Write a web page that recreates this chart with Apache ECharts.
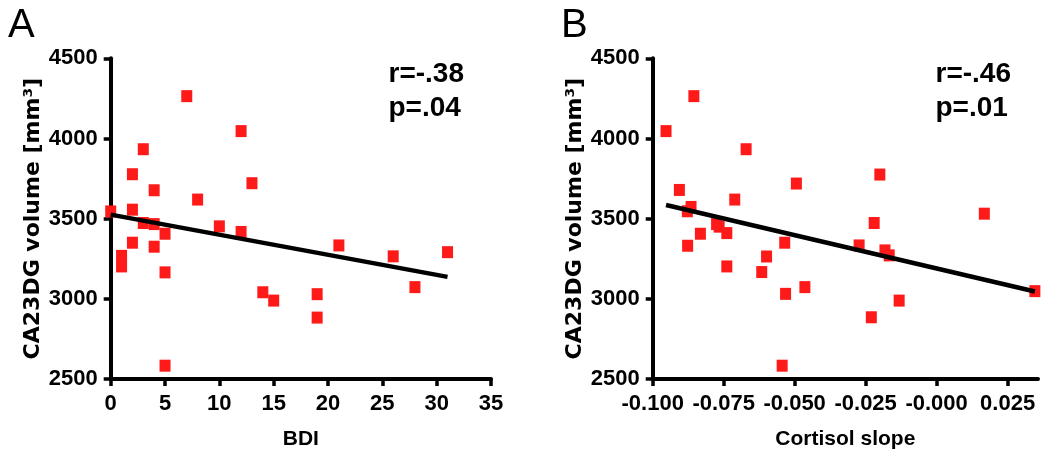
<!DOCTYPE html>
<html>
<head>
<meta charset="utf-8">
<script src="https://cdn.jsdelivr.net/npm/echarts@6/dist/echarts.min.js"></script>
<style>
html,body{margin:0;padding:0;background:#fff;}
#chart{width:1050px;height:456px;}
</style>
</head>
<body>
<div id="chart"></div>
<script>
// ---- Panel A data (BDI vs CA23DG volume) ----
const bdi  = [0,1,1,2,2,2,3,3,4,4,4,5,5,5,7,8,10,12,12,13,14,15,19,19,21,26,28,31];
const volA = [3545,3268,3202,3777,3556,3350,3933,3473,3677,3466,3325,3406,3165,2583,4264,3619,3452,4046,3417,3721,3041,2989,3029,2883,3333,3265,3073,3291];
const fitAx = [0, 31];
const fitAy = [3525, 3137];
const statsA = ['r=-.38', 'p=.04'];

// ---- Panel B data (Cortisol slope vs CA23DG volume) ----
const cortisol = [-0.0953,-0.0855,-0.0906,-0.0878,-0.0865,-0.0877,-0.0832,-0.0775,-0.0766,-0.0739,-0.0739,-0.0711,-0.0671,-0.0616,-0.0599,-0.0544,-0.0535,-0.0532,-0.0494,-0.0464,-0.0273,-0.0230,-0.0220,-0.0200,-0.0182,-0.0167,-0.0132,0.0168,0.0346];
const volB = [4046,4264,3679,3546,3573,3331,3406,3466,3450,3410,3202,3619,3933,3167,3264,2583,3350,3031,3719,3073,3333,2885,3473,3775,3302,3271,2989,3531,3048];
const fitBx = [-0.0953, 0.0346];
const fitBy = [3585, 3046];
const statsB = ['r=-.46', 'p=.01'];

// ---- Axis ticks / labels ----
const xTicksA = [0,5,10,15,20,25,30,35];
const yTicks = [2500,3000,3500,4000,4500];
const xTicksB = [-0.1,-0.075,-0.05,-0.025,0,0.025];
const xTickLabelsB = ['-0.100','-0.075','-0.050','-0.025','-0.000','0.025'];
const yName = 'CA23DG volume [mm³]';
const xNameA = 'BDI';
const xNameB = 'Cortisol slope';
const panelLabels = ['A', 'B'];

const zip = (xs, ys) => xs.map((x, i) => [x, ys[i]]);

const tickFont = "'Liberation Sans Narrow','Liberation Sans',Arial,sans-serif";
const nameFont = "'Liberation Sans',Arial,sans-serif";
const RED = '#ff1a1a';

function axisCommon() {
  return {
    axisLine: {show: true, onZero: false, lineStyle: {color: '#000', width: 4}},
    axisTick: {show: true, inside: false, length: 7, lineStyle: {color: '#000', width: 3.5}},
    axisLabel: {color: '#000', fontFamily: tickFont, fontWeight: 'bold', fontSize: 22, margin: 14},
    splitLine: {show: false}
  };
}

function xAxisDef(gridIndex, min, max, interval, name, ticks, labels) {
  const c = axisCommon();
  const ax = Object.assign({
    type: 'value', gridIndex, min, max, interval,
    name, nameLocation: 'middle', nameGap: 50,
    nameTextStyle: {color: '#000', fontFamily: nameFont, fontWeight: 'bold', fontSize: 21}
  }, c);
  c.axisLabel.formatter = v => String(v);
  if (ticks) {
    ax.axisTick = Object.assign({}, c.axisTick, {customValues: ticks});
    ax.axisLabel = Object.assign({}, c.axisLabel, {
      customValues: ticks,
      formatter: v => {
        let best = 0;
        ticks.forEach((t, i) => { if (Math.abs(t - v) < Math.abs(ticks[best] - v)) best = i; });
        return labels[best];
      }
    });
  }
  return ax;
}

function yAxisDef(gridIndex) {
  const c = axisCommon();
  c.axisLabel.formatter = v => String(v);
  c.axisLabel.margin = 13;
  return Object.assign({
    type: 'value', gridIndex, min: yTicks[0], max: yTicks[yTicks.length - 1], interval: 500,
    name: yName, nameLocation: 'middle', nameGap: 66,
    nameTextStyle: {color: '#000', fontFamily: "'DejaVu Sans',sans-serif", fontWeight: 'bold', fontSize: 22}
  }, c);
}

const chart = echarts.init(document.getElementById('chart'), null, {renderer: 'canvas'});

const option = {
  backgroundColor: '#fff',
  animation: false,
  grid: [
    {left: 110.7, top: 58.3, width: 380.3, height: 320.7},
    {left: 652.7, top: 58.3, width: 385.3, height: 320.7}
  ],
  xAxis: [
    xAxisDef(0, xTicksA[0], xTicksA[xTicksA.length - 1], 5, xNameA),
    xAxisDef(1, xTicksB[0], 0.0357, 0.025, xNameB, xTicksB, xTickLabelsB)
  ],
  yAxis: [yAxisDef(0), yAxisDef(1)],
  series: [
    {type: 'scatter', xAxisIndex: 0, yAxisIndex: 0, data: zip(bdi, volA),
     symbol: 'rect', symbolSize: [11, 12], itemStyle: {color: RED, opacity: 1}, z: 2},
    {type: 'line', xAxisIndex: 0, yAxisIndex: 0, data: zip(fitAx, fitAy),
     symbol: 'none', lineStyle: {color: '#000', width: 4.5}, z: 3},
    {type: 'scatter', xAxisIndex: 1, yAxisIndex: 1, data: zip(cortisol, volB),
     symbol: 'rect', symbolSize: [11, 12], itemStyle: {color: RED, opacity: 1}, z: 2},
    {type: 'line', xAxisIndex: 1, yAxisIndex: 1, data: zip(fitBx, fitBy),
     symbol: 'none', lineStyle: {color: '#000', width: 4.5}, z: 3}
  ],
  graphic: [
    {type: 'text', left: 8, top: 6, style: {text: panelLabels[0], fill: '#000', font: "40px 'Liberation Sans',Arial,sans-serif"}},
    {type: 'text', left: 561, top: 6, style: {text: panelLabels[1], fill: '#000', font: "40px 'Liberation Sans',Arial,sans-serif"}},
    {type: 'text', right: 1050 - 464, top: 57, style: {text: statsA.join('\n'), fill: '#000', align: 'right', lineHeight: 34,
      font: "bold 28px 'Liberation Sans',Arial,sans-serif"}},
    {type: 'text', right: 1050 - 1011, top: 57, style: {text: statsB.join('\n'), fill: '#000', align: 'right', lineHeight: 34,
      font: "bold 28px 'Liberation Sans',Arial,sans-serif"}}
  ]
};
chart.setOption(option);
</script>
</body>
</html>
